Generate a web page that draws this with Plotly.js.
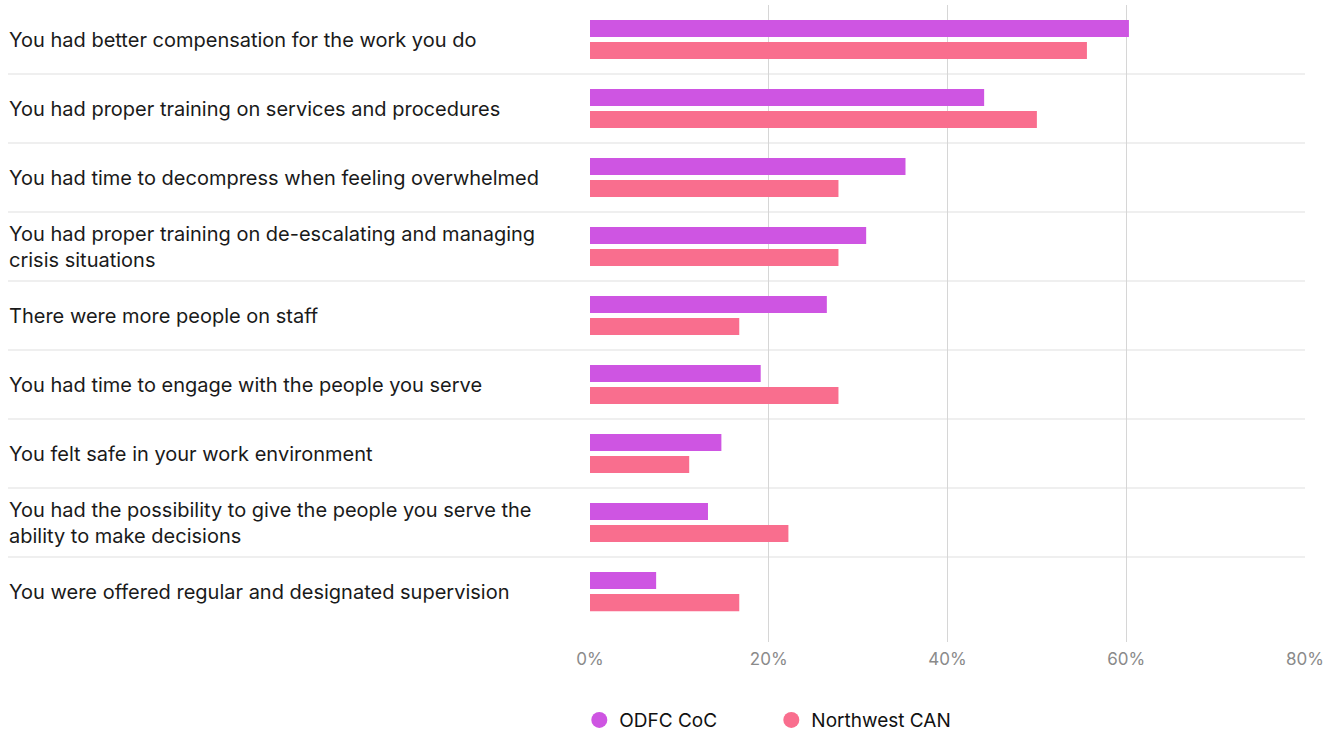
<!DOCTYPE html>
<html>
<head>
<meta charset="utf-8">
<script src="https://cdn.plot.ly/plotly-3.0.1.min.js"></script>
<style>
html,body{margin:0;padding:0;background:#fff;}
#chart{width:1341px;height:731px;}
</style>
</head>
<body>
<div id="chart"></div>
<script>
const categories = [
  "You had better compensation for the work you do",
  "You had proper training on services and procedures",
  "You had time to decompress when feeling overwhelmed",
  "You had proper training on de-escalating and managing<br>crisis situations",
  "There were more people on staff",
  "You had time to engage with the people you serve",
  "You felt safe in your work environment",
  "You had the possibility to give the people you serve the<br>ability to make decisions",
  "You were offered regular and designated supervision"
];
const seriesNames = ["ODFC CoC", "Northwest CAN"];
const odfcValues = [60.3, 44.1, 35.3, 30.9, 26.5, 19.1, 14.7, 13.2, 7.4];
const nwcanValues = [55.6, 50.0, 27.8, 27.8, 16.7, 27.8, 11.1, 22.2, 16.7];
const xTickVals = [0, 20, 40, 60, 80];
const xTickText = ["0%", "20%", "40%", "60%", "80%"];

const colors = ["#CE55E2", "#F96E8E"];
const FONT = "Inter, 'Noto Sans', sans-serif";

const idx = categories.map((_, i) => i);

const traces = [
  {type: "bar", orientation: "h", name: seriesNames[0], x: odfcValues, y: idx,
   marker: {color: colors[0]}, showlegend: false, hoverinfo: "skip"},
  {type: "bar", orientation: "h", name: seriesNames[1], x: nwcanValues, y: idx,
   marker: {color: colors[1]}, showlegend: false, hoverinfo: "skip"},
  {type: "scatter", mode: "markers", name: seriesNames[0], x: [null], y: [null],
   marker: {color: colors[0], size: 18, symbol: "circle"}, showlegend: true},
  {type: "scatter", mode: "markers", name: seriesNames[1], x: [null], y: [null],
   marker: {color: colors[1], size: 18, symbol: "circle"}, showlegend: true}
];

const labelX = -583 / 715;
const annotations = categories.map((c, i) => ({
  xref: "paper", yref: "y", x: labelX, y: i, xanchor: "left", yanchor: "middle",
  align: "left", text: c, showarrow: false,
  font: {family: FONT, size: 20, color: "#1a1a1a"}
}));

const shapes = [];
for (let i = 0; i < categories.length - 1; i++) {
  shapes.push({type: "line", xref: "paper", yref: "y", x0: -582 / 715, x1: 1,
    y0: i + 0.5, y1: i + 0.5, line: {color: "#efefef", width: 2}, layer: "below"});
}

const layout = {
  width: 1341, height: 731,
  margin: {l: 590, r: 36, t: 5, b: 89, pad: 0},
  paper_bgcolor: "#fff", plot_bgcolor: "rgba(0,0,0,0)",
  barmode: "group", bargap: 0.362, bargroupgap: 0.227,
  font: {family: FONT, size: 17, color: "#1a1a1a"},
  xaxis: {range: [0, 80], tickvals: xTickVals, ticktext: xTickText,
    showgrid: true, gridcolor: "#d6d6d6", gridwidth: 1, zeroline: false,
    showline: false, ticks: "", ticklabelstandoff: 5,
    tickfont: {family: FONT, size: 17, color: "#8a8a8a"}, fixedrange: true},
  yaxis: {type: "linear", range: [8.73, -0.5], showticklabels: false, showgrid: false,
    zeroline: false, showline: false, ticks: "", fixedrange: true},
  showlegend: true,
  legend: {orientation: "h", xref: "container", yref: "container",
    x: 0.432, y: 0.015, xanchor: "left", yanchor: "middle",
    font: {family: FONT, size: 19, color: "#111"}, entrywidth: 147, entrywidthmode: "pixels",
    bgcolor: "rgba(0,0,0,0)", borderwidth: 0, itemsizing: "trace"},
  annotations: annotations,
  shapes: shapes,
  hovermode: false
};

Plotly.newPlot("chart", traces, layout, {displayModeBar: false, staticPlot: true});
</script>
</body>
</html>
